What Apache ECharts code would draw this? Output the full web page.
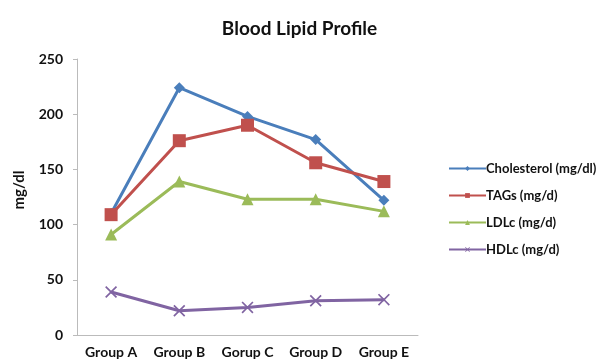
<!DOCTYPE html>
<html><head><meta charset="utf-8">
<script src="https://cdn.jsdelivr.net/npm/echarts@6/dist/echarts.min.js"></script>
<style>html,body{margin:0;padding:0;background:#fff}#c{width:599px;height:362px}</style>
</head><body><div id="c"></div>
<script>
const categories = ['Group A','Group B','Gorup C','Group D','Group E'];
const cholesterol = [110, 224, 198, 177, 122];
const tags = [109, 176, 190, 156, 139];
const ldlc = [91, 139, 123, 123, 112];
const hdlc = [39, 22, 25, 31, 32];
const yTicks = [0, 50, 100, 150, 200, 250];

const font = 'Lato, "Open Sans", sans-serif';
const xPath = 'path://M0,1 L1,0 L5,4 L9,0 L10,1 L6,5 L10,9 L9,10 L5,6 L1,10 L0,9 L4,5 Z';
function s(name, data, color, symbol, size) {
  return {name, type:'line', data, symbol, symbolSize:size, showSymbol:true,
    lineStyle:{color, width:3}, itemStyle:{color}, emphasis:{disabled:true}};
}
const chart = echarts.init(document.getElementById('c'), null, {renderer:'canvas'});
chart.setOption({
  animation:false,
  backgroundColor:'#fff',
  title:{text:'Blood Lipid Profile', left:'center', top:14,
    textStyle:{fontFamily:font, fontWeight:'bold', fontSize:19, color:'#111'}},
  grid:{left:77, right:181, top:59, bottom:27},
  legend:{orient:'vertical', left:443, top:157, itemWidth:37, itemHeight:6, itemGap:14,
    textStyle:{fontFamily:font, fontWeight:'bold', fontSize:13, color:'#111', padding:[0,0,0,-5]},
    data:['Cholesterol (mg/dl)','TAGs (mg/d)','LDLc (mg/d)','HDLc (mg/d)']},
  xAxis:{type:'category', data:categories, boundaryGap:true,
    axisLine:{lineStyle:{color:'#bbb', width:1}}, axisTick:{show:false},
    axisLabel:{fontFamily:font, fontWeight:'bold', fontSize:14, color:'#111', margin:10, interval:0}},
  yAxis:{type:'value', min:yTicks[0], max:yTicks[yTicks.length-1], interval:50,
    name:'mg/dl', nameLocation:'middle', nameGap:50, nameRotate:90,
    nameTextStyle:{fontFamily:font, fontWeight:'bold', fontSize:15, color:'#111', padding:[0,0,0,14]},
    axisLine:{show:true, lineStyle:{color:'#bbb'}}, axisTick:{show:true, length:4, lineStyle:{color:'#bbb'}},
    splitLine:{show:false},
    axisLabel:{fontFamily:font, fontWeight:'bold', fontSize:14, color:'#111', margin:14}},
  series:[
    s('Cholesterol (mg/dl)', cholesterol, '#4a7ebb', 'diamond', 11),
    s('TAGs (mg/d)', tags, '#c0504d', 'rect', 13),
    s('LDLc (mg/d)', ldlc, '#9bbb59', 'triangle', 12),
    s('HDLc (mg/d)', hdlc, '#8064a2', xPath, 12)
  ]
});
</script></body></html>
